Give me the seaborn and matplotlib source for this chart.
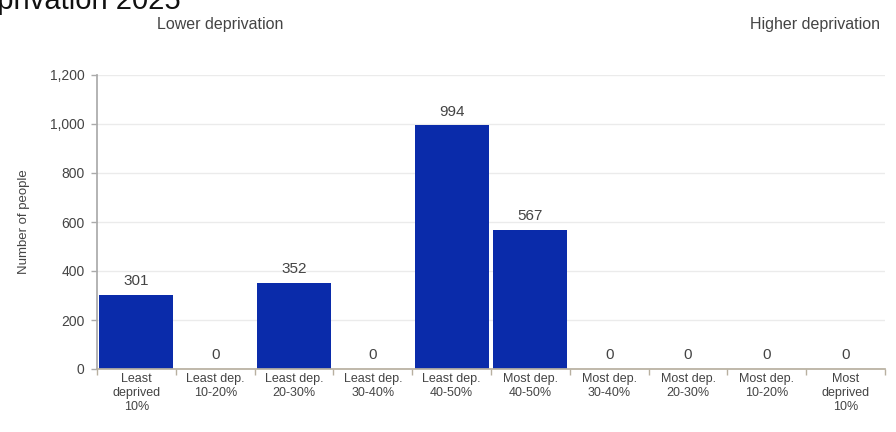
import matplotlib
matplotlib.use("Agg")
import matplotlib.pyplot as plt
import seaborn as sns
import pandas as pd
from matplotlib.ticker import FuncFormatter, FixedLocator

categories = [
    "Least\ndeprived\n10%", "Least dep.\n10-20%", "Least dep.\n20-30%",
    "Least dep.\n30-40%", "Least dep.\n40-50%", "Most dep.\n40-50%",
    "Most dep.\n30-40%", "Most dep.\n20-30%", "Most dep.\n10-20%",
    "Most\ndeprived\n10%",
]
values = [301, 0, 352, 0, 994, 567, 0, 0, 0, 0]
y_ticks = [0, 200, 400, 600, 800, 1000, 1200]
title_text = "Deprivation 2025"
left_note = "Lower deprivation"
right_note = "Higher deprivation"
y_label = "Number of people"

sns.set_theme(style="white")
plt.rcParams["font.family"] = ["Liberation Sans", "DejaVu Sans"]

df = pd.DataFrame({"cat": categories, "val": values})

fig = plt.figure(figsize=(8.96, 4.32), dpi=100)
ax = fig.add_axes([97 / 896, 1 - 369 / 432, (885 - 97) / 896, (369 - 75) / 432])

sns.barplot(data=df, x="cat", y="val", color="#0A2BAA", saturation=1,
            width=0.94, ax=ax, edgecolor="#0A2BAA", linewidth=0)

ax.set_xlim(-0.5, len(categories) - 0.5)
ax.set_ylim(0, 1200)
ax.set_yticks(y_ticks)
ax.yaxis.set_major_formatter(FuncFormatter(lambda v, p: f"{int(v):,}"))
ax.grid(axis="y", color="#ebebeb", linewidth=1)
ax.set_axisbelow(True)

# x ticks: boundaries as marks, centers as labels
ax.xaxis.set_major_locator(FixedLocator([i - 0.5 for i in range(len(categories) + 1)]))
ax.xaxis.set_major_formatter(FuncFormatter(lambda v, p: ""))
ax.xaxis.set_minor_locator(FixedLocator(list(range(len(categories)))))
ax.set_xticklabels(categories, minor=True)
ax.tick_params(axis="x", which="major", length=4, width=1, color="#b8b0a0", direction="out", bottom=True)
ax.tick_params(axis="x", which="minor", length=0, labelsize=9, labelcolor="#444444", pad=3)
ax.tick_params(axis="y", length=4, width=1, color="#aaaaaa", direction="out", left=True,
               labelsize=10, labelcolor="#444444", pad=5)

for s in ["top", "right"]:
    ax.spines[s].set_visible(False)
ax.spines["left"].set_color("#aaaaaa")
ax.spines["bottom"].set_color("#b8b0a0")

ax.set_xlabel("")
ax.set_ylabel(y_label, fontsize=9.5, color="#444444", labelpad=14)

for cont in ax.containers:
    ax.bar_label(cont, labels=[f"{v:,}" for v in values], padding=5,
                 fontsize=11, color="#444444")

fig.text(220 / 896, 1 - 25 / 432, left_note, ha="center", va="center",
         fontsize=11.5, color="#444444")
fig.text(815 / 896, 1 - 25 / 432, right_note, ha="center", va="center",
         fontsize=11.5, color="#444444")
fig.text(181 / 896, 1 - 9 / 432, title_text, ha="right", va="baseline",
         fontsize=21, color="#111111")

fig.savefig("out.png", dpi=100)
